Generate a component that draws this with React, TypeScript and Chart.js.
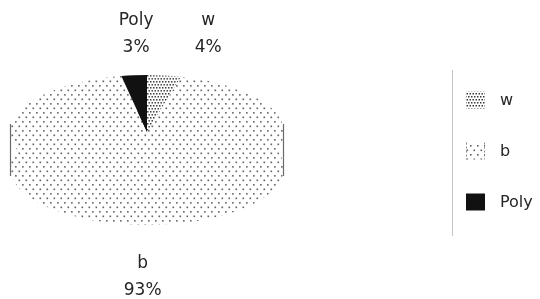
import { useEffect, useRef } from "react";
import { Chart, registerables } from "chart.js";

Chart.register(...registerables);

// ---- data ----
const categories = ["w", "b", "Poly"];
const values = [4, 93, 3];
const percentLabels = ["4%", "93%", "3%"];

// ---- style constants ----
const TILT = 0.416; // vertical squash of the pie (3D look)
const DEPTH = 36; // thickness of the pie side
const CENTER_SHIFT = -5;
const LABEL_NUDGE_X = [44, 0, 2];
const LABEL_GAP = [15, 26, 15];
const FONT = '"DejaVu Sans", sans-serif';

function makeSparse(): CanvasPattern {
  const c = document.createElement("canvas");
  c.width = 14;
  c.height = 9;
  const g = c.getContext("2d")!;
  g.fillStyle = "#ffffff";
  g.fillRect(0, 0, 14, 9);
  g.fillStyle = "#5e5e5e";
  [[1, 1], [8, 1], [4.5, 5.5], [11.5, 5.5]].forEach(([x, y]) => g.fillRect(x, y, 1.6, 1.6));
  return g.createPattern(c, "repeat")!;
}

function makeDense(): CanvasPattern {
  const c = document.createElement("canvas");
  c.width = 6;
  c.height = 6;
  const g = c.getContext("2d")!;
  g.fillStyle = "#ffffff";
  g.fillRect(0, 0, 6, 6);
  g.fillStyle = "#3a3a3a";
  [[0, 0], [3, 0], [1.5, 3], [4.5, 3]].forEach(([x, y]) => g.fillRect(x, y, 1.5, 1.5));
  return g.createPattern(c, "repeat")!;
}

const pie3d = {
  id: "pie3d",
  beforeDatasetsDraw(chart: any) {
    const ctx: CanvasRenderingContext2D = chart.ctx;
    const meta = chart.getDatasetMeta(0);
    const a0 = meta.data[0];
    const cx = a0.x;
    const cy = a0.y;
    const R = a0.outerRadius;
    const cyT = cy + CENTER_SHIFT;
    const pats = chart.data.datasets[0].backgroundColor as any[];
    pats.forEach((p) => {
      if (p instanceof CanvasPattern) p.setTransform(new DOMMatrix([1, 0, 0, 1 / TILT, 0, 0]));
    });
    for (const off of [DEPTH, 0]) {
      ctx.save();
      ctx.translate(cx, cyT + off);
      ctx.scale(1, TILT);
      ctx.translate(-cx, -cy);
      meta.data.forEach((el: any) => el.draw(ctx));
      ctx.restore();
    }
    ctx.save();
    ctx.strokeStyle = "#6a6a6a";
    ctx.lineWidth = 1.2;
    [-1, 1].forEach((s) => {
      ctx.beginPath();
      ctx.moveTo(cx + s * (R - 0.5), cyT - 8);
      ctx.lineTo(cx + s * (R - 0.5), cyT + DEPTH + 8);
      ctx.stroke();
    });
    ctx.restore();
    pats.forEach((p) => {
      if (p instanceof CanvasPattern) p.setTransform(new DOMMatrix());
    });
    return false;
  },
};

const decor = {
  id: "decor",
  afterDraw(chart: any) {
    const ctx: CanvasRenderingContext2D = chart.ctx;
    const meta = chart.getDatasetMeta(0);
    const a0 = meta.data[0];
    const cx = a0.x;
    const cyT = a0.y + CENTER_SHIFT;
    const R = a0.outerRadius;
    const colors = chart.data.datasets[0].backgroundColor as any[];

    // data labels
    ctx.save();
    ctx.fillStyle = "#262626";
    ctx.font = `17px ${FONT}`;
    ctx.textAlign = "center";
    ctx.textBaseline = "middle";
    meta.data.forEach((el: any, i: number) => {
      const mid = (el.startAngle + el.endAngle) / 2;
      const s = Math.sin(mid);
      const px = cx + R * Math.cos(mid) + LABEL_NUDGE_X[i];
      const py = cyT + R * TILT * s + (s > 0 ? DEPTH : 0);
      let y1: number;
      if (s < 0) y1 = py - LABEL_GAP[i] - 13 - 27;
      else y1 = py + LABEL_GAP[i] + 13;
      ctx.fillText(categories[i], px, y1);
      ctx.fillText(percentLabels[i], px, y1 + 27);
    });
    ctx.restore();

    // legend
    ctx.save();
    ctx.strokeStyle = "#c4c4c4";
    ctx.lineWidth = 1;
    ctx.beginPath();
    ctx.moveTo(452.5, 70);
    ctx.lineTo(452.5, 236);
    ctx.stroke();
    ctx.font = `16px ${FONT}`;
    ctx.textBaseline = "middle";
    ctx.textAlign = "left";
    categories.forEach((lab, i) => {
      const yc = 100 + i * 51;
      ctx.fillStyle = colors[i];
      ctx.fillRect(466, yc - 8.5, 19, 17);
      if (i === 1) {
        ctx.save();
        ctx.strokeStyle = "#8a8a8a";
        ctx.setLineDash([2, 2]);
        ctx.beginPath();
        ctx.moveTo(466.5, yc - 8.5);
        ctx.lineTo(466.5, yc + 8.5);
        ctx.moveTo(484.5, yc - 8.5);
        ctx.lineTo(484.5, yc + 8.5);
        ctx.stroke();
        ctx.restore();
      }
      ctx.fillStyle = "#262626";
      ctx.fillText(lab, 500, yc + 1);
    });
    ctx.restore();
  },
};

export default function App() {
  const ref = useRef<HTMLCanvasElement>(null);
  useEffect(() => {
    const canvas = ref.current!;
    const bg = [makeDense(), makeSparse(), "#111111"];
    const chart = new Chart(canvas, {
      type: "pie",
      data: {
        labels: categories,
        datasets: [{ data: values, backgroundColor: bg as any, borderWidth: 0 }],
      },
      options: {
        responsive: false,
        animation: false,
        layout: { padding: { left: 10, right: 256, top: 0, bottom: 25 } },
        plugins: { legend: { display: false }, tooltip: { enabled: false } },
      },
      plugins: [pie3d as any, decor as any],
    });
    return () => chart.destroy();
  }, []);
  return (
    <div style={{ position: "absolute", left: 0, top: 0, width: 540, height: 299, background: "#fff" }}>
      <canvas ref={ref} width={540} height={299} style={{ display: "block" }} />
    </div>
  );
}
